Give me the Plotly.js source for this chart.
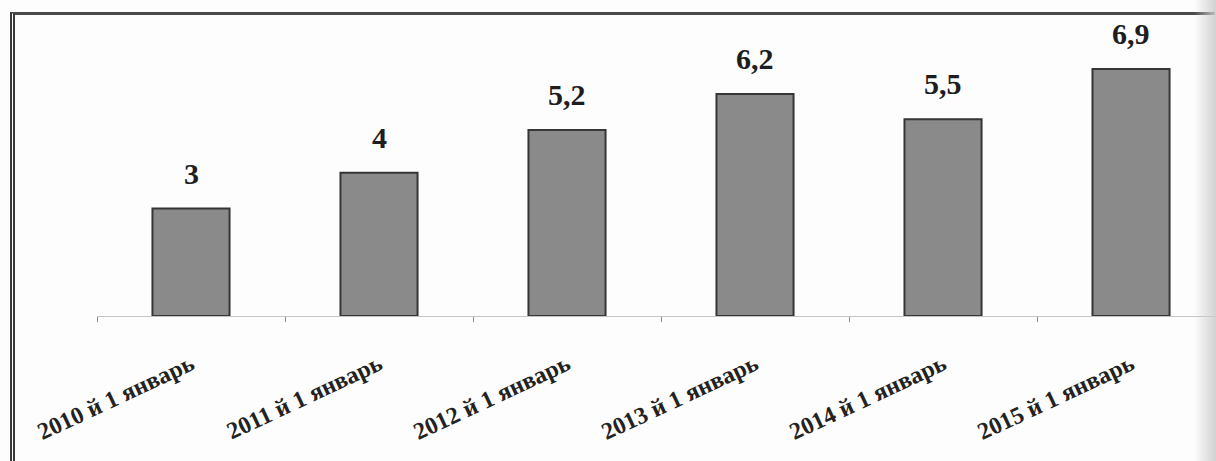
<!DOCTYPE html>
<html>
<head>
<meta charset="utf-8">
<script src="https://cdn.plot.ly/plotly-3.0.1.min.js"></script>
<style>
  html, body { margin: 0; padding: 0; background: #ffffff; }
  #wrap { position: relative; width: 1216px; height: 461px; overflow: hidden; background: #fdfdfd; }
  #chart { position: absolute; left: 0; top: 0; width: 1216px; height: 461px; }
  #frame { position: absolute; left: 10px; top: 12px; width: 1200px; height: 460px;
           border-left: 5px double #3a3a3a; border-top: 3px solid #4a4a4a; pointer-events: none; }
  #fade { position: absolute; right: 0; top: 0; width: 22px; height: 461px; pointer-events: none;
          background: linear-gradient(to right, rgba(220,220,220,0), rgba(205,205,205,0.9)); }
</style>
</head>
<body>
<div id="wrap">
  <div id="chart"></div>
  <div id="frame"></div>
  <div id="fade"></div>
</div>
<script>
const categories = ["2010 й 1 январь", "2011 й 1 январь", "2012 й 1 январь",
                    "2013 й 1 январь", "2014 й 1 январь", "2015 й 1 январь"];
const values = [3, 4, 5.2, 6.2, 5.5, 6.9];
const valueLabels = ["3", "4", "5,2", "6,2", "5,5", "6,9"];

const serif = "'Liberation Serif', 'Times New Roman', serif";

const trace = {
  type: "bar",
  x: categories,
  y: values,
  marker: { color: "#8a8a8a", line: { color: "#363636", width: 2 } },
  hoverinfo: "skip"
};

const annotations = categories.map((c, i) => ({
  x: c, y: values[i], xref: "x", yref: "y",
  text: valueLabels[i], showarrow: false,
  yanchor: "bottom", yshift: 17,
  font: { family: serif, size: 30, color: "#1e1e1e", weight: "bold" }
}));

const layout = {
  width: 1216, height: 461,
  margin: { l: 97, r: 0, t: 20, b: 145, pad: 0 },
  paper_bgcolor: "rgba(0,0,0,0)",
  plot_bgcolor: "rgba(0,0,0,0)",
  bargap: 0.59,
  showlegend: false,
  xaxis: {
    type: "category",
    range: [-0.5, 5.452],
    tickson: "boundaries",
    ticks: "outside", ticklen: 5, tickcolor: "#8a8a8a", tickwidth: 1,
    showline: true, linecolor: "#c4c4c4", linewidth: 1,
    showgrid: false, zeroline: false,
    tickangle: -25,
    ticklabelstandoff: 24,
    tickfont: { family: serif, size: 24, color: "#222222", weight: "bold" }
  },
  yaxis: {
    range: [0, 8.27],
    visible: false, showgrid: false, zeroline: false
  },
  annotations: annotations
};

Plotly.newPlot("chart", [trace], layout, { staticPlot: true, displayModeBar: false });
</script>
</body>
</html>
